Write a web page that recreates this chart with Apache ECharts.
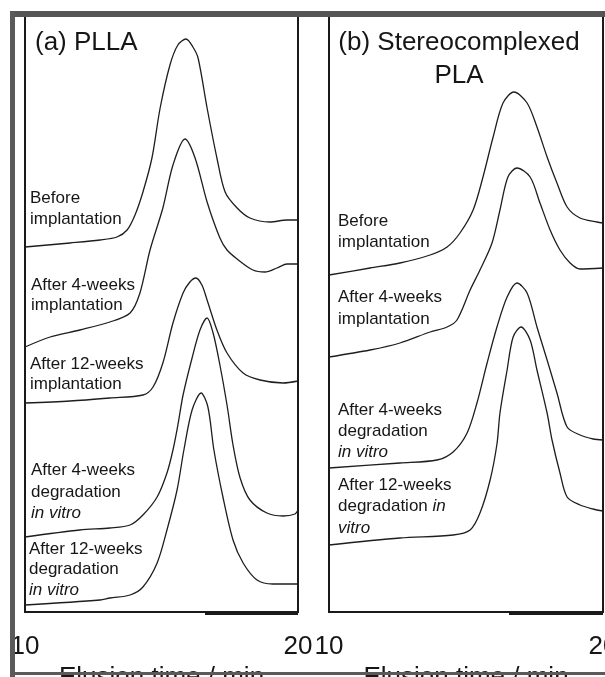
<!DOCTYPE html>
<html>
<head>
<meta charset="utf-8">
<script src="https://cdn.jsdelivr.net/npm/echarts@6/dist/echarts.min.js"></script>
<style>
html,body{margin:0;padding:0;background:#fff;}
#chart{width:605px;height:677px;}
</style>
</head>
<body>
<div id="chart"></div>
<script>
// Elution time (min) vs. detector signal (arbitrary units, stacked traces)
const xTicks = [10, 20];
const axisTitle = 'Elusion time / min';

// (a) PLLA
const pllaBefore = [[10.00,365],[11.65,369],[12.75,372],[13.37,375],[13.74,382],[14.03,397],[14.32,420],[14.65,454],[14.95,504],[15.31,547],[15.60,567],[15.90,573],[16.15,565],[16.34,554],[16.67,504],[17.03,454],[17.33,420],[17.77,404],[18.24,394],[18.97,390],[19.60,392],[20.00,392]];
const pllaImpl4 = [[10.00,265],[10.92,275],[12.01,282],[13.11,290],[13.85,299],[14.21,319],[14.58,362],[15.05,404],[15.42,447],[15.86,473],[16.23,454],[16.67,410],[17.14,374],[17.40,362],[17.77,353],[18.35,342],[18.79,340],[19.23,344],[19.60,348],[20.00,348]];
const pllaImpl12 = [[10.00,209],[11.65,211],[13.11,214],[14.32,217],[14.69,225],[15.05,249],[15.42,289],[15.79,319],[16.04,330],[16.26,334],[16.48,327],[16.67,312],[17.03,282],[17.40,259],[17.99,239],[18.61,232],[19.45,229],[20.00,231]];
const pllaDeg4 = [[10.00,75],[12.01,82],[13.11,84],[13.85,87],[14.32,97],[14.84,115],[15.20,139],[15.42,162],[15.60,187],[15.79,217],[16.12,254],[16.41,282],[16.67,294],[16.89,279],[17.14,247],[17.40,207],[17.62,167],[17.88,134],[18.24,112],[18.86,99],[19.45,96],[19.89,98],[20.00,102]];
const pllaDeg12 = [[10.00,7],[12.75,12],[13.11,14],[13.85,17],[14.32,25],[14.84,49],[15.20,82],[15.57,122],[15.82,162],[16.12,202],[16.45,219],[16.70,205],[16.92,162],[17.25,115],[17.62,72],[17.99,49],[18.50,32],[19.08,28],[20.00,28]];

// (b) Stereocomplexed PLA
const scBefore = [[10.00,337],[11.50,344],[12.59,349],[13.69,357],[14.31,365],[14.78,379],[15.26,402],[15.62,435],[15.99,475],[16.35,509],[16.75,520],[17.23,509],[17.59,485],[17.96,455],[18.32,429],[18.69,405],[19.16,394],[19.78,390],[20.00,389]];
const scImpl4 = [[10.00,255],[11.50,262],[12.59,269],[13.69,280],[14.31,285],[14.67,292],[15.15,322],[15.51,342],[15.95,369],[16.24,402],[16.53,435],[16.86,444],[17.34,435],[17.70,409],[18.07,382],[18.43,362],[18.80,349],[19.16,343],[20.00,344]];
const scDeg4 = [[10.00,144],[12.59,149],[13.94,152],[14.53,160],[15.04,179],[15.40,209],[15.77,249],[16.13,285],[16.50,315],[16.86,329],[17.23,319],[17.59,285],[17.96,252],[18.32,219],[18.69,185],[19.16,177],[19.64,173],[20.00,172]];
const scDeg12 = [[10.00,67],[12.59,74],[14.53,77],[15.15,82],[15.51,99],[15.88,132],[16.13,168],[16.24,199],[16.50,242],[16.72,275],[17.01,285],[17.34,272],[17.59,242],[17.96,199],[18.14,172],[18.43,139],[18.69,115],[19.16,107],[19.64,103],[20.00,101]];

const panelTitles = ['(a) PLLA', '(b) Stereocomplexed\nPLA'];
const pllaLabels = [
  '{n|Before}\n{n|implantation}',
  '{n|After 4-weeks}\n{n|implantation}',
  '{n|After 12-weeks}\n{n|implantation}',
  '{n|After 4-weeks}\n{n|degradation}\n{i|in vitro}',
  '{n|After 12-weeks}\n{n|degradation}\n{i|in vitro}'
];
const scLabels = [
  '{n|Before}\n{n|implantation}',
  '{n|After 4-weeks}\n{n|implantation}',
  '{n|After 4-weeks}\n{n|degradation}\n{i|in vitro}',
  '{n|After 12-weeks}\n{n|degradation }{i|in}\n{i|vitro}'
];

const FONT = '"Liberation Sans", Arial, Helvetica, sans-serif';
const INK = '#161616';

function richStyle(lh){
  return {
    n: {fontSize: 17, fontFamily: FONT, fill: INK, color: INK, lineHeight: lh, height: lh},
    i: {fontSize: 17, fontFamily: FONT, fill: INK, color: INK, fontStyle: 'italic', lineHeight: lh, height: lh}
  };
}
function label(text, x, y, lh){
  return {
    type: 'text', x: x, y: y, z: 50,
    style: {text: text, fontSize: 17, fontFamily: FONT, fill: INK, lineHeight: lh,
            align: 'left', verticalAlign: 'top', rich: richStyle(lh)}
  };
}

const chart = echarts.init(document.getElementById('chart'), null, {renderer: 'canvas'});

function xAx(gi){
  return {
    gridIndex: gi, type: 'value', min: xTicks[0], max: xTicks[1], interval: xTicks[1] - xTicks[0],
    axisLine: {show: false}, axisTick: {show: false}, splitLine: {show: false},
    axisLabel: {show: true, showMinLabel: true, showMaxLabel: true, fontSize: 26, fontFamily: FONT, color: INK, margin: 22},
    name: axisTitle, nameLocation: 'middle', nameGap: 47,
    nameTextStyle: {fontSize: 26, fontFamily: FONT, color: INK}
  };
}
function yAx(gi){
  return {gridIndex: gi, type: 'value', min: 0, max: 596, show: false};
}
function line(data, gi){
  return {
    type: 'line', xAxisIndex: gi, yAxisIndex: gi, data: data,
    showSymbol: false, smooth: 0.3, silent: true,
    lineStyle: {color: '#1e1e1e', width: 1.3}
  };
}

const option = {
  backgroundColor: '#ffffff',
  animation: false,
  grid: [
    {left: 25, top: 16, width: 273, height: 596, containLabel: false, outerBoundsMode: 'none', show: true, borderColor: '#1a1a1a', borderWidth: 2, backgroundColor: 'transparent'},
    {left: 329, top: 16, width: 274, height: 596, containLabel: false, outerBoundsMode: 'none', show: true, borderColor: '#1a1a1a', borderWidth: 2, backgroundColor: 'transparent'}
  ],
  xAxis: [xAx(0), xAx(1)],
  yAxis: [yAx(0), yAx(1)],
  series: [
    line(pllaBefore, 0), line(pllaImpl4, 0), line(pllaImpl12, 0), line(pllaDeg4, 0), line(pllaDeg12, 0),
    line(scBefore, 1), line(scImpl4, 1), line(scDeg4, 1), line(scDeg12, 1)
  ],
  graphic: [
    // scan border bands
    {type: 'rect', z: 60, shape: {x: 10, y: 11, width: 595, height: 6}, style: {fill: '#555555'}},
    {type: 'rect', z: 60, shape: {x: 10, y: 11, width: 5, height: 666}, style: {fill: '#5a5a5a'}},
    {type: 'rect', z: 60, shape: {x: 10, y: 672, width: 595, height: 3}, style: {fill: '#5a5a5a'}},
    // thicker bottom frame segments
    {type: 'rect', z: 40, shape: {x: 205, y: 611, width: 93, height: 4}, style: {fill: '#1a1a1a'}},
    {type: 'rect', z: 40, shape: {x: 509, y: 611, width: 94, height: 4}, style: {fill: '#1a1a1a'}},
    // panel titles
    {type: 'text', x: 35, y: 26, z: 50, style: {text: panelTitles[0], fontSize: 26, fontFamily: FONT, fill: INK, align: 'left', verticalAlign: 'top', lineHeight: 33}},
    {type: 'text', x: 459, y: 26, z: 50, style: {text: panelTitles[1], fontSize: 26, fontFamily: FONT, fill: INK, align: 'center', verticalAlign: 'top', lineHeight: 33}},
    // PLLA trace labels
    label(pllaLabels[0], 30, 188.5, 20.5),
    label(pllaLabels[1], 31, 275, 20),
    label(pllaLabels[2], 30, 354, 20),
    label(pllaLabels[3], 31, 460, 21.5),
    label(pllaLabels[4], 29, 539, 20.5),
    // Stereocomplex trace labels
    label(scLabels[0], 338, 210.5, 21),
    label(scLabels[1], 338, 286.5, 22),
    label(scLabels[2], 338, 399.5, 21),
    label(scLabels[3], 338, 474.5, 21.5)
  ]
};
chart.setOption(option);
</script>
</body>
</html>
